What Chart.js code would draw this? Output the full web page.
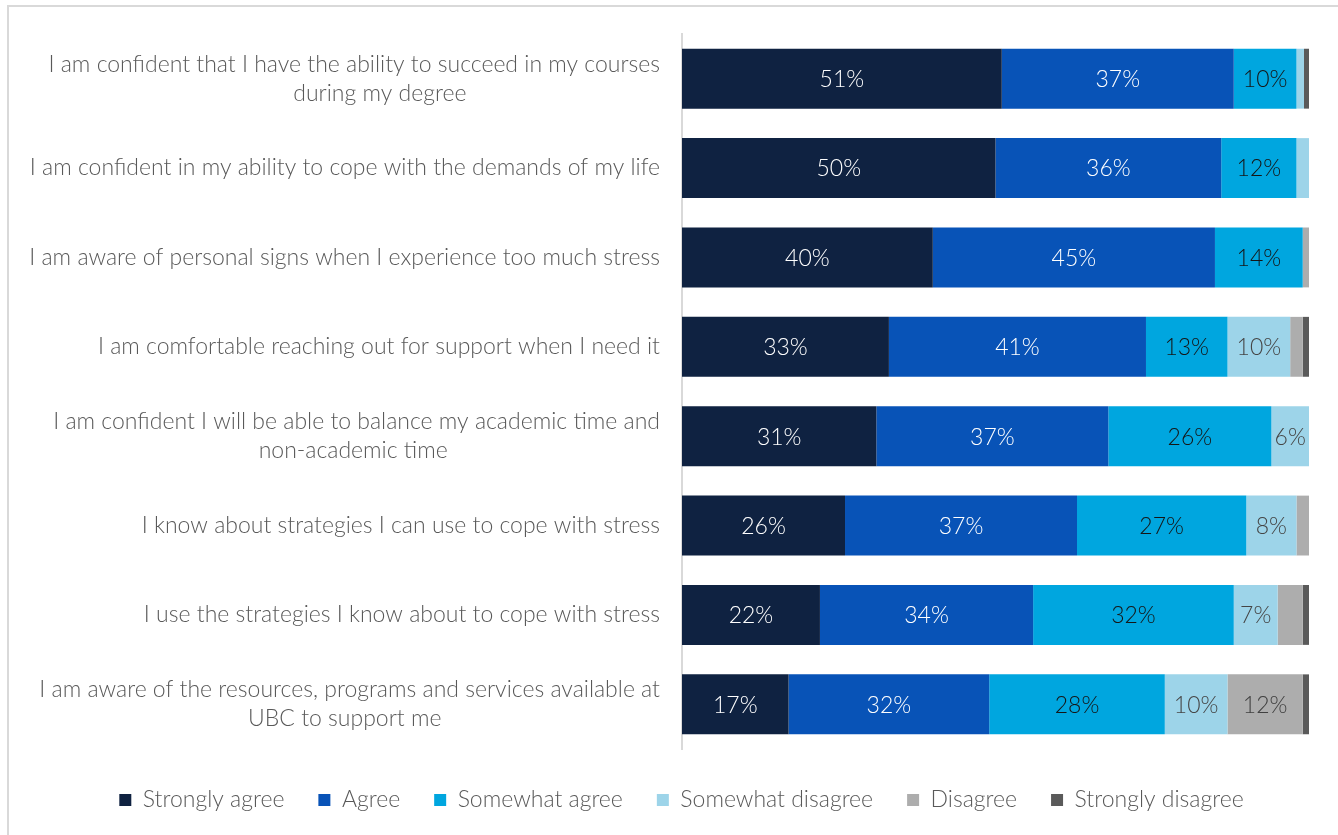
<!DOCTYPE html>
<html>
<head>
<meta charset="utf-8">
<script src="https://cdn.jsdelivr.net/npm/chart.js@4/dist/chart.umd.min.js"></script>
<style>
  html, body { margin: 0; padding: 0; background: #fff; }
  #wrap { position: relative; width: 1338px; height: 835px; overflow: hidden; }
  #frame { position: absolute; left: 7px; top: 5px; width: 1340px; height: 860px;
           border: 2px solid #d9d9d9; box-sizing: border-box; pointer-events: none; }
  canvas { position: absolute; left: 0; top: 0; }
</style>
</head>
<body>
<div id="wrap">
  <canvas id="surveyChart" width="1338" height="835"></canvas>
  <div id="frame"></div>
</div>
<script>
// 문항 (두 줄 문항은 둘째 줄 뒤에 공백을 붙여 위치를 맞춤)
var questions = [
  ['I am confident that I have the ability to succeed in my courses', 'during my degree' + ' '.repeat(31)],
  'I am confident in my ability to cope with the demands of my life',
  'I am aware of personal signs when I experience too much stress',
  'I am comfortable reaching out for support when I need it',
  ['I am confident I will be able to balance my academic time and', 'non-academic time' + ' '.repeat(34)],
  'I know about strategies I can use to cope with stress',
  'I use the strategies I know about to cope with stress',
  ['I am aware of the resources, programs and services available at', 'UBC to support me' + ' '.repeat(35)]
];

var responses = ['Strongly agree', 'Agree', 'Somewhat agree', 'Somewhat disagree', 'Disagree', 'Strongly disagree'];

// 응답 비율 (%)
var stronglyAgree    = [51, 50, 40, 33, 31, 26, 22, 17];
var agree            = [37, 36, 45, 41, 37, 37, 34, 32];
var somewhatAgree    = [10, 12, 14, 13, 26, 27, 32, 28];
var somewhatDisagree = [1.2, 2, 0, 10, 6, 8, 7, 10];
var disagree         = [0, 0, 1, 2, 0, 2, 4, 12];
var stronglyDisagree = [0.8, 0, 0, 1, 0, 0, 1, 1];

var colors = ['#0f2241', '#0853b7', '#00a6df', '#9dd4e9', '#adadad', '#5a5a5a'];
var valueColors = ['#ffffff', '#ffffff', '#151515', '#454545', '#404040', '#ffffff'];

var seriesList = [stronglyAgree, agree, somewhatAgree, somewhatDisagree, disagree, stronglyDisagree];

var datasets = seriesList.map(function(data, i) {
  return {
    label : responses[i],
    data : data,
    backgroundColor : colors[i],
    borderWidth : 0,
    barPercentage : 1,
    categoryPercentage : 0.67
  };
});

var FONT = 'Lato';

// 막대 안에 퍼센트 표시
var valueLabels = {
  id : 'valueLabels',
  afterDatasetsDraw : function(chart) {
    var ctx = chart.ctx;
    ctx.save();
    ctx.font = '300 23px ' + FONT;
    ctx.textAlign = 'center';
    ctx.textBaseline = 'middle';
    chart.data.datasets.forEach(function(ds, i) {
      var meta = chart.getDatasetMeta(i);
      meta.data.forEach(function(bar, j) {
        var v = ds.data[j];
        if (v < 5) return;
        var p = bar.getProps(['x', 'y', 'base'], true);
        ctx.fillStyle = valueColors[i];
        ctx.fillText(v + '%', (p.x + p.base) / 2, p.y + 1);
      });
    });
    ctx.restore();
  }
};

// 범례를 막대 영역 쪽으로 조금 이동
var legendShift = {
  id : 'legendShift',
  afterLayout : function(chart) {
    if (!chart.legend) return;
    chart.legend.left += 22;
    chart.legend.right += 22;
  }
};

var ctx = document.getElementById('surveyChart').getContext('2d');
var surveyChart = new Chart(ctx, {
  type : 'bar',
  data : {
    labels : questions,
    datasets : datasets
  },
  options : {
    indexAxis : 'y',
    responsive : false,
    animation : false,
    layout : {
      padding : { left : 10, right : 29, top : 34, bottom : 13.5 }
    },
    scales : {
      x : {
        stacked : true,
        min : 0,
        max : 100,
        grid : { display : false },
        border : { display : false },
        ticks : { display : false },
        afterFit : function(scale) {
          // 막대와 범례 사이 간격
          scale.height = 5.5;
        }
      },
      y : {
        stacked : true,
        grid : { display : false, drawTicks : false },
        border : { color : '#d9d9d9', width : 2 },
        ticks : {
          color : '#595959',
          padding : 22,
          font : { family : FONT, size : 23, weight : '300', lineHeight : 1.26 }
        },
        afterFit : function(scale) {
          scale.width = 672;
          scale.paddingTop = 0;
          scale.paddingBottom = 0;
        }
      }
    },
    plugins : {
      legend : {
        position : 'bottom',
        labels : {
          color : '#595959',
          boxWidth : 12,
          boxHeight : 12,
          padding : 34,
          font : { family : FONT, size : 23, weight : '300' }
        }
      },
      tooltip : { enabled : false }
    }
  },
  plugins : [valueLabels, legendShift]
});
</script>
</body>
</html>
